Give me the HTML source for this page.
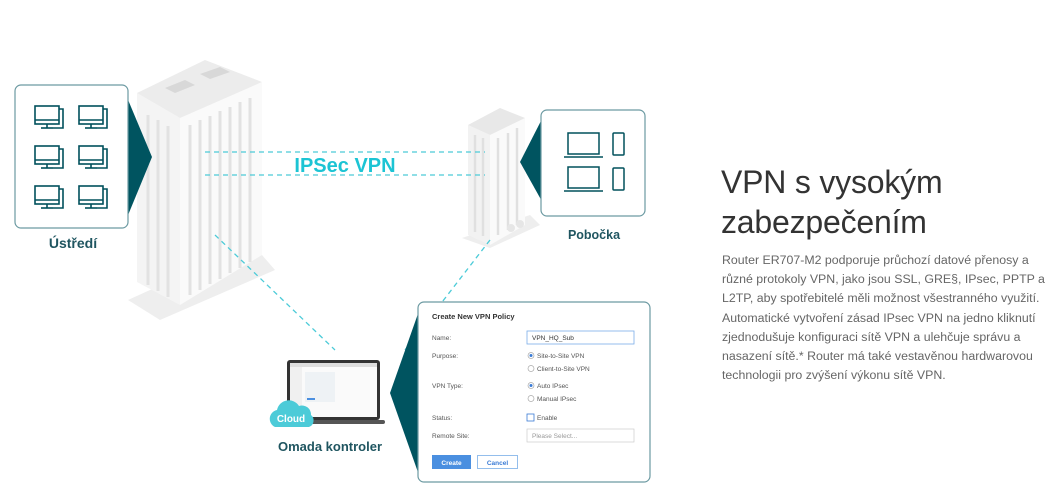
<!DOCTYPE html>
<html><head><meta charset="utf-8"><style>
body{margin:0;width:1060px;height:504px;background:#fff;position:relative;overflow:hidden;font-family:"Liberation Sans",sans-serif}
.a{position:absolute}
.h{left:721px;top:162px;font-size:32px;line-height:40px;color:#333;letter-spacing:-0.2px}
.p{left:722px;top:251px;font-size:12.35px;line-height:19.2px;color:#666;white-space:nowrap}
</style></head><body>
<svg class="a" style="left:0;top:0" width="700" height="504">
<polygon points="128,300 150,290 262,255 275,270 160,320" fill="#eeeeee"/>
<polygon points="137,93 180,118 180,305 137,282" fill="#f4f4f4"/>
<polygon points="180,118 262,82 262,255 180,305" fill="#fafafa"/>
<polygon points="137,93 205,60 262,82 180,118" fill="#ececec"/>
<polygon points="165,88 185,80 195,85 175,93" fill="#d8d8d8"/>
<polygon points="200,74 220,67 230,72 210,79" fill="#d8d8d8"/>
<g stroke="#e2e2e2" stroke-width="3">
<line x1="148" y1="115" x2="148" y2="285"/><line x1="158" y1="120" x2="158" y2="291"/><line x1="168" y1="126" x2="168" y2="297"/>
<line x1="190" y1="125" x2="190" y2="295"/><line x1="200" y1="120" x2="200" y2="290"/><line x1="210" y1="116" x2="210" y2="284"/><line x1="220" y1="111" x2="220" y2="279"/><line x1="230" y1="107" x2="230" y2="273"/><line x1="240" y1="102" x2="240" y2="268"/><line x1="250" y1="98" x2="250" y2="262"/>
</g>
<polygon points="462,238 480,232 530,215 540,225 490,248" fill="#eeeeee"/>
<polygon points="468,125 490,135 490,245 468,235" fill="#f2f2f2"/>
<polygon points="490,135 525,118 525,225 490,245" fill="#fafafa"/>
<polygon points="468,125 500,108 525,118 490,135" fill="#e8e8e8"/>
<g stroke="#e0e0e0" stroke-width="2.5"><line x1="475" y1="135" x2="475" y2="232"/><line x1="483" y1="138" x2="483" y2="236"/><line x1="498" y1="138" x2="498" y2="235"/><line x1="508" y1="133" x2="508" y2="230"/><line x1="517" y1="128" x2="517" y2="225"/></g>
<circle cx="511" cy="228" r="4" fill="#e6e6e6"/><circle cx="520" cy="224" r="4" fill="#e6e6e6"/>
<g stroke="#4ccbd8" stroke-width="1.3" stroke-dasharray="5,4" fill="none">
<line x1="205" y1="152" x2="485" y2="152"/><line x1="205" y1="175" x2="485" y2="175"/>
<line x1="215" y1="235" x2="335" y2="350"/><line x1="490" y1="240" x2="405" y2="350"/>
</g>
<text x="345" y="172" text-anchor="middle" font-family="Liberation Sans" font-weight="bold" font-size="20" fill="#1cc4d4">IPSec VPN</text>
<polygon points="126,95 152,157 126,220" fill="#005460"/>
<rect x="15" y="85" width="113" height="143" rx="6" fill="#fff" stroke="#6c9aa2" stroke-width="1.2"/>
<g stroke="#00505c" stroke-width="1.6" fill="none">
<g id="pc"><rect x="35" y="106" width="24" height="18"/><line x1="35" y1="120" x2="59" y2="120"/><line x1="47" y1="124" x2="47" y2="128"/><line x1="41" y1="128" x2="53" y2="128"/><path d="M59,109 h4 v19 h-10"/></g>
<use href="#pc" x="44"/><use href="#pc" y="40"/><use href="#pc" x="44" y="40"/><use href="#pc" y="80"/><use href="#pc" x="44" y="80"/>
</g>
<text x="73" y="248" text-anchor="middle" font-family="Liberation Sans" font-weight="bold" font-size="14" fill="#1f5560">Ústředí</text>
<polygon points="544,115 520,162 544,205" fill="#005460"/>
<rect x="541" y="110" width="104" height="106" rx="6" fill="#fff" stroke="#6c9aa2" stroke-width="1.2"/>
<g stroke="#00505c" stroke-width="1.5" fill="none">
<rect x="568" y="133" width="31" height="21"/><line x1="564" y1="157" x2="603" y2="157"/>
<rect x="568" y="167" width="31" height="21"/><line x1="564" y1="191" x2="603" y2="191"/>
<rect x="613" y="133" width="11" height="22" rx="1"/><rect x="613" y="168" width="11" height="22" rx="1"/>
</g>
<text x="594" y="239" text-anchor="middle" font-family="Liberation Sans" font-weight="bold" font-size="12.5" fill="#1f5560">Pobočka</text>
<rect x="287" y="360" width="93" height="60" rx="3" fill="#333"/>
<rect x="290" y="363" width="87" height="54" fill="#fafafa"/>
<rect x="290" y="363" width="87" height="4" fill="#ddd"/>
<rect x="290" y="367" width="12" height="50" fill="#f0f0f0"/>
<rect x="305" y="372" width="30" height="30" fill="#eef2f5"/>
<rect x="307" y="398" width="8" height="2" fill="#4a8fe0"/>
<rect x="280" y="420" width="105" height="4" rx="2" fill="#555"/>
<path d="M275,427 a9,9 0 0 1 2,-17 a12,12 0 0 1 22,-4 a9,9 0 0 1 12,9 a7,7 0 0 1 -2,12 z" fill="#4ccbd8"/>
<text x="291" y="422" text-anchor="middle" font-family="Liberation Sans" font-weight="bold" font-size="10" fill="#fff">Cloud</text>
<text x="330" y="451" text-anchor="middle" font-family="Liberation Sans" font-weight="bold" font-size="13" fill="#1f5560">Omada kontroler</text>
<polygon points="420,308 390,393 420,478" fill="#005460"/>
<rect x="418" y="302" width="232" height="180" rx="6" fill="#fff" stroke="#6c9aa2" stroke-width="1.2"/>
<text x="432" y="319" font-family="Liberation Sans" font-weight="bold" font-size="7.5" fill="#333">Create New VPN Policy</text>
<g font-family="Liberation Sans" font-size="6.5" fill="#555">
<text x="432" y="340">Name:</text><text x="432" y="358">Purpose:</text><text x="432" y="388">VPN Type:</text><text x="432" y="420">Status:</text><text x="432" y="438">Remote Site:</text>
<text x="537" y="358">Site-to-Site VPN</text><text x="537" y="371">Client-to-Site VPN</text><text x="537" y="388">Auto IPsec</text><text x="537" y="401">Manual IPsec</text><text x="537" y="420">Enable</text>
<text x="532" y="340" fill="#333">VPN_HQ_Sub</text><text x="532" y="438" fill="#999">Please Select...</text>
</g>
<rect x="527" y="331" width="107" height="13" fill="none" stroke="#7aaee8" stroke-width="0.8"/>
<g fill="none" stroke="#aaa" stroke-width="0.7"><circle cx="531" cy="355.5" r="3"/><circle cx="531" cy="368.5" r="3"/><circle cx="531" cy="385.5" r="3"/><circle cx="531" cy="398.5" r="3"/></g>
<circle cx="531" cy="355.5" r="1.5" fill="#3a7bd5"/><circle cx="531" cy="385.5" r="1.5" fill="#3a7bd5"/>
<rect x="527" y="414" width="7" height="7" fill="none" stroke="#3a7bd5" stroke-width="0.8"/>
<rect x="527" y="429" width="107" height="13" fill="none" stroke="#ccc" stroke-width="0.7"/>
<rect x="432" y="455" width="39" height="14" fill="#4a8fe0"/>
<text x="451.5" y="465" text-anchor="middle" font-family="Liberation Sans" font-size="6.5" font-weight="bold" fill="#fff">Create</text>
<rect x="477.5" y="455.5" width="40" height="13" fill="#fff" stroke="#7aaee8" stroke-width="0.8"/>
<text x="497.5" y="465" text-anchor="middle" font-family="Liberation Sans" font-size="6.5" font-weight="bold" fill="#3a7bd5">Cancel</text>
</svg>
<div class="a h">VPN s vysokým<br>zabezpečením</div>
<div class="a p">Router ER707-M2 podporuje průchozí datové přenosy a<br>různé protokoly VPN, jako jsou SSL, GRE§, IPsec, PPTP a<br>L2TP, aby spotřebitelé měli možnost všestranného využití.<br>Automatické vytvoření zásad IPsec VPN na jedno kliknutí<br>zjednodušuje konfiguraci sítě VPN a ulehčuje správu a<br>nasazení sítě.* Router má také vestavěnou hardwarovou<br>technologii pro zvýšení výkonu sítě VPN.</div>
</body></html>
